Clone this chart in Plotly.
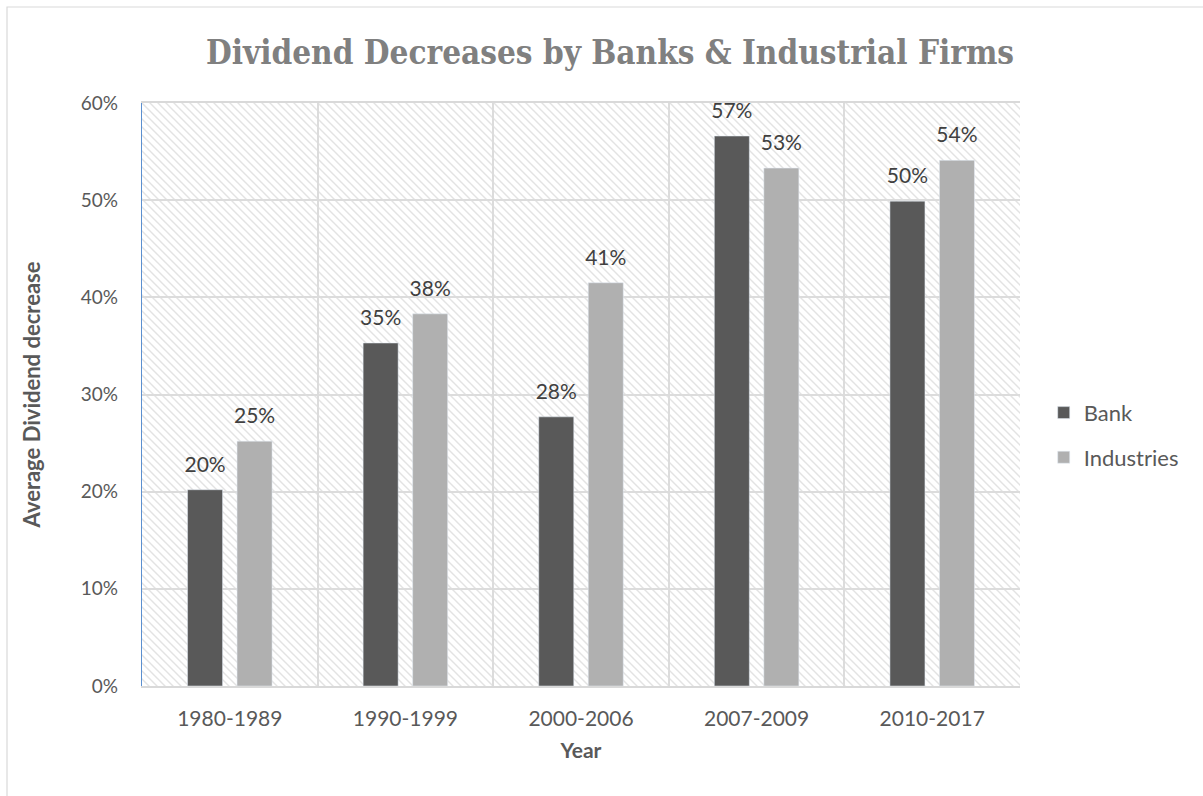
import base64
import plotly.graph_objects as go

categories = ["1980-1989", "1990-1999", "2000-2006", "2007-2009", "2010-2017"]
bank = [0.202, 0.353, 0.277, 0.566, 0.499]
industries = [0.252, 0.383, 0.415, 0.533, 0.541]
bank_labels = ["20%", "35%", "28%", "57%", "50%"]
industries_labels = ["25%", "38%", "41%", "53%", "54%"]

W, H = 1203, 796
L, R, T, B = 142, 183, 103, 110
pw, ph = W - L - R, H - T - B

svg = (
    f'<svg xmlns="http://www.w3.org/2000/svg" width="{pw}" height="{ph}" '
    f'viewBox="0 0 {pw} {ph}" preserveAspectRatio="none">'
    '<defs><pattern id="p" width="8" height="8" patternUnits="userSpaceOnUse">'
    '<rect width="8" height="8" fill="white"/>'
    '<path d="M-2,-2 L10,10 M-2,6 L2,10 M6,-2 L10,2" stroke="#e3e3e3" stroke-width="1.4"/>'
    '</pattern></defs>'
    f'<rect width="{pw}" height="{ph}" fill="url(#p)"/></svg>'
)
src = "data:image/svg+xml;base64," + base64.b64encode(svg.encode()).decode()


def label(t):
    return f"<span style='font-size:21px'>{t}</span><br>\u00a0"


fig = go.Figure()
fig.add_trace(go.Bar(
    name="Bank", x=categories, y=bank, marker_color="#595959",
    text=[label(t) for t in bank_labels], textposition="outside", legendgroup="a",
    constraintext="none",
    textfont=dict(size=10, color="#404040", family="Lato"), cliponaxis=False,
))
fig.add_trace(go.Bar(
    name="Industries", x=categories, y=industries, marker_color="#b0b0b0",
    text=[label(t) for t in industries_labels], textposition="outside", legendgroup="b",
    constraintext="none",
    textfont=dict(size=10, color="#404040", family="Lato"), cliponaxis=False,
))

fig.update_layout(
    width=W, height=H,
    margin=dict(l=L, r=R, t=T, b=B),
    paper_bgcolor="white",
    plot_bgcolor="rgba(0,0,0,0)",
    barmode="group",
    bargap=0.436,
    bargroupgap=0.293,
    font=dict(family="Lato", color="#595959", size=19),
    title=dict(
        text="<b>Dividend Decreases by Banks &amp; Industrial Firms</b>",
        font=dict(family="DejaVu Serif Condensed", size=33, color="#808080"),
        x=(610) / W, xanchor="center", y=1 - 52 / H, yanchor="middle",
    ),
    legend=dict(
        x=1.027, xanchor="left", y=0.43, yanchor="middle",
        font=dict(size=22, color="#595959", family="Lato"),
        tracegroupgap=13, itemwidth=30,
    ),
    showlegend=True,
    images=[dict(
        source=src, xref="paper", yref="paper", x=0, y=1,
        sizex=1, sizey=1, xanchor="left", yanchor="top",
        sizing="stretch", layer="below",
    )],
    shapes=[dict(
        type="rect", xref="paper", yref="paper",
        x0=(7 - L) / pw, x1=(W + 20 - L) / pw,
        y0=-(H + 20 - T - ph) / ph, y1=(T + ph - 7) / ph,
        line=dict(color="#d9d9d9", width=1.2), fillcolor="rgba(0,0,0,0)",
        layer="below",
    )],
)

fig.update_xaxes(
    type="category", tickson="boundaries", showgrid=True,
    gridcolor="#dcdcdc", gridwidth=1.6,
    showline=True, linecolor="#d9d9d9", linewidth=1.6, mirror=True,
    ticks="", ticklabelstandoff=13,
    tickfont=dict(size=21, color="#595959"),
    title=dict(text="<b>Year</b>", font=dict(size=21, color="#595959"), standoff=14),
)
fig.update_yaxes(
    range=[0, 0.6], dtick=0.1, tickformat=".0%",
    showgrid=True, gridcolor="#dcdcdc", gridwidth=1.6,
    showline=True, linecolor="#5b8fcf", linewidth=1.2,
    zeroline=False, ticks="", ticklabelstandoff=19,
    tickfont=dict(size=19, color="#595959"),
    title=dict(text="<b>Average Dividend decrease</b>", font=dict(size=22, color="#595959"), standoff=34),
)

fig.write_html("out.html")
